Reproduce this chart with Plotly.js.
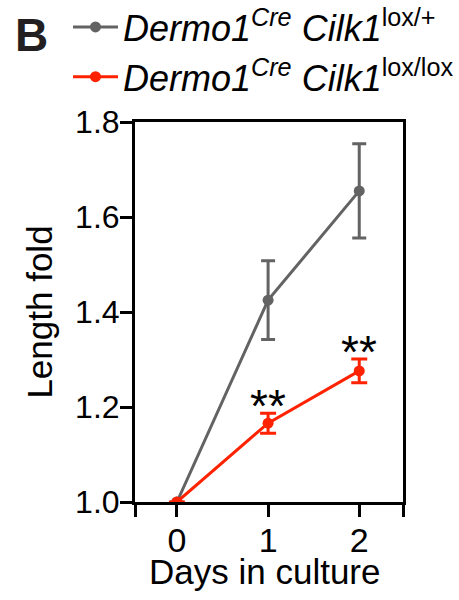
<!DOCTYPE html>
<html>
<head>
<meta charset="utf-8">
<script src="https://cdn.plot.ly/plotly-3.0.1.min.js"></script>
<style>html,body{margin:0;padding:0;background:#fff;}#chart{width:459px;height:600px;}</style>
</head>
<body>
<div id="chart"></div>
<script>
var days = [0, 1, 2];
var hetMean = [1.0, 1.425, 1.655];
var hetErr = [0, 0.083, 0.099];
var koMean = [1.0, 1.166, 1.276];
var koErr = [0, 0.021, 0.025];
var hetName = '<i>Dermo1<sup>Cre</sup> Cilk1</i><sup>lox/+</sup>';
var koName = '<i>Dermo1<sup>Cre</sup> Cilk1</i><sup>lox/lox</sup>';
var sigDays = [1, 2];
var sigLabels = ['**', '**'];
var xTickVals = [-0.46, 0, 1, 2, 2.48];
var xTickText = ['', '0', '1', '2', ''];
var yTickVals = [1.0, 1.2, 1.4, 1.6, 1.8];
var yTickText = ['1.0', '1.2', '1.4', '1.6', '1.8'];
var xTitle = 'Days in culture';
var yTitle = 'Length fold';

var gray = '#636363';
var red = '#ff2200';
var fam = 'Liberation Sans, Arial, sans-serif';

var traces = [
  {x: days, y: hetMean, name: hetName, type: 'scatter', mode: 'lines+markers',
   line: {color: gray, width: 3}, marker: {color: gray, size: 11},
   error_y: {type: 'data', array: hetErr, visible: true, color: gray, thickness: 3, width: 7}},
  {x: days, y: koMean, name: koName, type: 'scatter', mode: 'lines+markers',
   line: {color: red, width: 3}, marker: {color: red, size: 11},
   error_y: {type: 'data', array: koErr, visible: true, color: red, thickness: 3, width: 8}}
];

var annotations = [
  {text: '<b>B</b>', xref: 'paper', yref: 'paper', x: -0.455, y: 1.228, xanchor: 'left', yanchor: 'middle',
   showarrow: false, font: {family: fam, size: 46, color: '#231f20'}},
  {text: xTitle, xref: 'paper', yref: 'paper', x: 0.483, y: -0.182, xanchor: 'center', yanchor: 'middle',
   showarrow: false, font: {family: fam, size: 35, color: '#000'}}
];
for (var i = 0; i < sigDays.length; i++) {
  var d = sigDays[i];
  annotations.push({text: sigLabels[i], x: d, y: koMean[d] + koErr[d], xref: 'x', yref: 'y',
    yanchor: 'bottom', yshift: -21, showarrow: false,
    font: {family: fam, size: 46, color: '#000'}});
}

var layout = {
  width: 459, height: 600,
  margin: {l: 135, r: 56, t: 122, b: 98, autoexpand: false},
  paper_bgcolor: '#fff', plot_bgcolor: '#fff',
  font: {family: fam, color: '#000'},
  showlegend: true,
  legend: {x: -0.25, y: 1.329, xanchor: 'left', yanchor: 'top',
           font: {size: 36, color: '#000'}, itemwidth: 45, tracegroupgap: 0, bgcolor: 'rgba(0,0,0,0)'},
  xaxis: {range: [-0.46, 2.48], tickmode: 'array', tickvals: xTickVals, ticktext: xTickText,
          ticks: 'outside', ticklen: 12, tickwidth: 3, tickcolor: '#000', ticklabelstandoff: -6,
          showline: true, linewidth: 3, linecolor: '#000', mirror: true,
          showgrid: false, zeroline: false, tickfont: {size: 34}},
  yaxis: {range: [1.0, 1.8], tickmode: 'array', tickvals: yTickVals, ticktext: yTickText,
          ticks: 'outside', ticklen: 12, tickwidth: 3, tickcolor: '#000', ticklabelstandoff: -6,
          showline: true, linewidth: 3, linecolor: '#000', mirror: true,
          showgrid: false, zeroline: false, tickfont: {size: 32},
          title: {text: yTitle, font: {size: 35}, standoff: 12}},
  annotations: annotations
};

Plotly.newPlot('chart', traces, layout, {displayModeBar: false, staticPlot: true});
</script>
</body>
</html>
